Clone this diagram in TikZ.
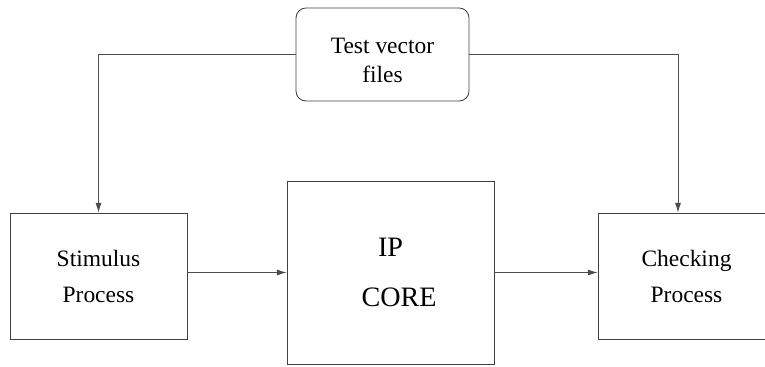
\documentclass[tikz,border=0pt]{standalone}
\usepackage{fontspec}
\setmainfont{Liberation Serif}
\newfontfamily\blkfont{Liberation Serif}
\usetikzlibrary{arrows.meta,positioning}

\begin{document}
\begin{tikzpicture}[
  proc/.style={draw=black!75,line width=0.6pt,minimum width=4.425cm,minimum height=3.15cm,align=center,font=\blkfont\fontsize{16.7}{25.6}\selectfont},
  core/.style={draw=black!75,line width=0.6pt,minimum width=5.175cm,minimum height=4.575cm,align=center,font=\blkfont\fontsize{20}{35.6}\selectfont},
  files/.style={draw=black!75,line width=0.6pt,minimum width=4.325cm,minimum height=2.325cm,align=center,rounded corners=7pt,text height=40pt,text depth=0pt,font=\blkfont\fontsize{16.7}{21}\selectfont},
  link/.style={draw=black!70,line width=0.6pt,-{Latex[length=2.4mm,width=1.5mm]}}
]
  \useasboundingbox (0,0) rectangle (19.125,9.175);
  \clip (0,0) rectangle (19.125,9.175);

  % Source of vectors
  \node[files] (tvf) at (9.5625, 7.8125) {Test vector\\files};

  % Blocks
  \node[proc] (stim) at (2.4625, 2.275) {Stimulus\\Process};
  \node[core] (ip) at (9.7625, 2.3625) {IP\\\hspace*{0.425cm}CORE};
  \node[proc] (chk) at (17.1625, 2.275) {Checking\\Process};
  \coordinate (chkin) at (16.95, 0 |- chk.north);

  % Connections
  \draw[link] (tvf.west) -| (stim.north);
  \draw[link] (tvf.east) -| (chkin);
  \draw[link] (ip.west -| stim.east) -- (ip.west);
  \draw[link] (ip.east) -- (ip.east -| chk.west);
\end{tikzpicture}
\end{document}
